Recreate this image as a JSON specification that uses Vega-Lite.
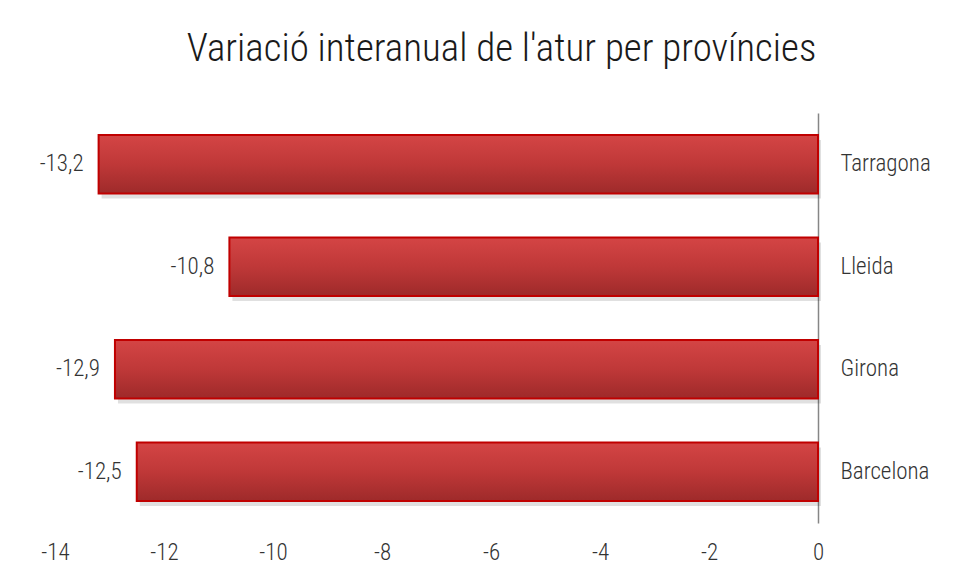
{
  "$schema": "https://vega.github.io/schema/vega-lite/v6.json",
  "width": 763,
  "height": 410,
  "autosize": {"type": "none"},
  "padding": {"left": 55, "top": 113, "right": 138, "bottom": 58},
  "background": "white",
  "title": {
    "text": "Variació interanual de l'atur per províncies",
    "fontSize": 39,
    "font": "Roboto Condensed, Liberation Sans Narrow, sans-serif",
    "fontWeight": 300,
    "color": "#1a1a1a",
    "anchor": "middle",
    "frame": "group",
    "dx": 65,
    "offset": 44
  },
  "data": {
    "values": [
      {"provincia": "Tarragona", "variacio": -13.2},
      {"provincia": "Lleida", "variacio": -10.8},
      {"provincia": "Girona", "variacio": -12.9},
      {"provincia": "Barcelona", "variacio": -12.5}
    ]
  },
  "encoding": {
    "y": {
      "field": "provincia",
      "type": "nominal",
      "sort": ["Tarragona", "Lleida", "Girona", "Barcelona"],
      "scale": {"paddingInner": 0.43, "paddingOuter": 0.215},
      "axis": {
        "orient": "right",
        "title": null,
        "ticks": false,
        "domainColor": "#868686",
        "domainWidth": 1.5,
        "labelPadding": 22,
        "labelFontSize": 23,
        "labelFontWeight": 300,
        "labelColor": "#333333",
        "labelFont": "Roboto Condensed, Liberation Sans Narrow, sans-serif"
      }
    },
    "x": {
      "field": "variacio",
      "type": "quantitative",
      "scale": {"domain": [-14, 0], "nice": false, "zero": true},
      "axis": {
        "title": null,
        "values": [-14, -12, -10, -8, -6, -4, -2, 0],
        "format": "d",
        "grid": false,
        "ticks": false,
        "domain": false,
        "labelFlush": false,
        "labelPadding": 18,
        "labelFontSize": 23,
        "labelFontWeight": 300,
        "labelColor": "#333333",
        "labelFont": "Roboto Condensed, Liberation Sans Narrow, sans-serif"
      }
    }
  },
  "layer": [
    {
      "mark": {"type": "bar", "fill": "#000000", "fillOpacity": 0.12, "yOffset": 5, "xOffset": 3, "stroke": null}
    },
    {
      "mark": {
        "type": "bar",
        "stroke": "#c00000",
        "strokeWidth": 2,
        "fill": {
          "gradient": "linear",
          "x1": 0, "y1": 0, "x2": 0, "y2": 1,
          "stops": [
            {"offset": 0, "color": "#d44545"},
            {"offset": 0.5, "color": "#bf3838"},
            {"offset": 1, "color": "#9e2a2a"}
          ]
        }
      }
    },
    {
      "mark": {
        "type": "text",
        "align": "right",
        "baseline": "middle",
        "dx": -15,
        "fontSize": 23,
        "fontWeight": 300,
        "color": "#333333",
        "font": "Roboto Condensed, Liberation Sans Narrow, sans-serif"
      },
      "encoding": {
        "text": {"field": "variacio", "type": "quantitative", "format": ".1f"}
      }
    }
  ],
  "config": {
    "locale": {
      "number": {
        "decimal": ",",
        "thousands": ".",
        "grouping": [3],
        "currency": ["", " €"],
        "minus": "-"
      }
    },
    "view": {"stroke": null}
  }
}
